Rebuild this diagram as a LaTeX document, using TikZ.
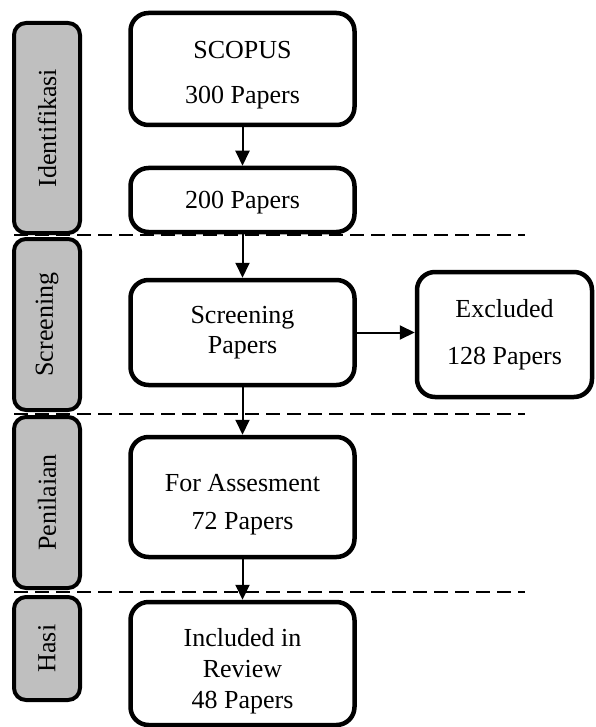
\documentclass[tikz,border=0pt]{standalone}
\usepackage{fontspec}
\setmainfont{Liberation Serif}
\usetikzlibrary{arrows.meta,positioning}
\begin{document}
\begin{tikzpicture}[x=1pt, y=-1pt,
        box/.style={draw, line width=4.5pt, rounded corners=18pt, align=center,
            inner sep=0pt, font=\fontsize{26}{30}\selectfont},
        phase/.style={draw, line width=4pt, rounded corners=12pt, fill=gray!50,
            minimum width=66pt, inner sep=0pt, rotate=90, font=\fontsize{26}{30}\selectfont},
        flow/.style={-{Triangle[width=14pt,length=15pt]}, line width=2pt}]
        \useasboundingbox (0,0) rectangle (595,727);

        % Phase labels on the left
        \node[phase, minimum height=66pt, minimum width=210pt] (identifikasi) at (47,128) {Identifikasi};
        \node[phase, minimum height=66pt, minimum width=171pt] (screening) at (47,324.5) {Screening};
        \node[phase, minimum height=66pt, minimum width=171pt] (penilaian) at (47,502.5) {Penilaian};
        \node[phase, minimum height=66pt, minimum width=103pt] (hasi) at (47,648.5) {Hasi};

        % Separators between phases
        \foreach \y in {235,414,592}
            \draw[line width=1.8pt, dash pattern=on 14pt off 7pt] (14,\y) -- (525,\y);

        % Main flow
        \node[box, minimum width=224pt, minimum height=112pt] (scopus) at (242.5,69) {\rule{0pt}{29pt}SCOPUS\\[15pt]300 Papers};
        \node[box, minimum width=224pt, minimum height=64pt] (papers) at (242.5,200) {\rule{0pt}{22pt}200 Papers};
        \node[box, minimum width=224pt, minimum height=105pt] (screen) at (242.5,332.5) {Screening\\Papers};
        \node[box, minimum width=175pt, minimum height=125pt] (excluded) at (504.5,334.5) {Excluded\\[17pt]128 Papers};
        \node[box, minimum width=224pt, minimum height=120pt] (assess) at (242.5,497) {\rule{0pt}{32pt}For Assesment\\[8pt]72 Papers};
        \node[box, minimum width=224pt, minimum height=123pt] (included) at (242.5,663.5) {\rule{0pt}{34pt}Included in\\[1pt]Review\\[1pt]48 Papers};

        % Arrows
        \draw[flow] (scopus) -- (papers);
        \draw[flow] (papers) -- (screen);
        \draw[flow] (screen.east) -- (screen.east -| excluded.west);
        \draw[flow] (screen) -- (assess);
        \draw[flow] (assess) -- (included);
\end{tikzpicture}
\end{document}
